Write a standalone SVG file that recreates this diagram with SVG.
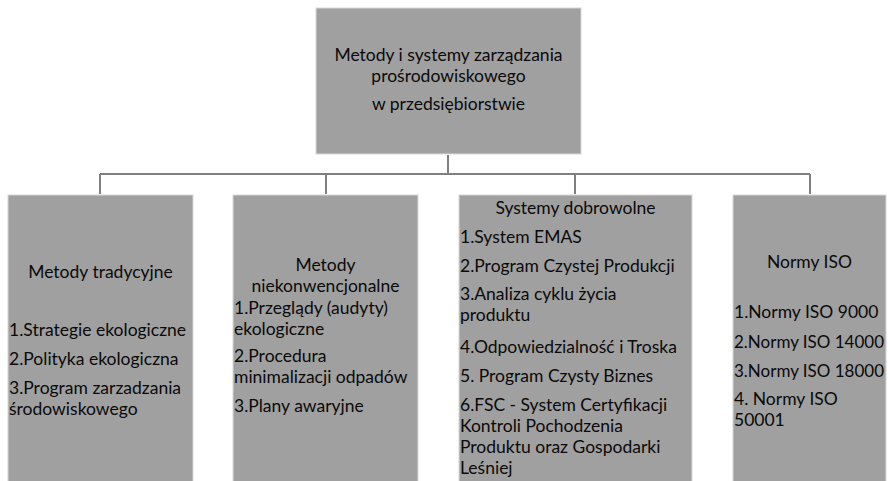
<svg xmlns="http://www.w3.org/2000/svg" width="888" height="481" viewBox="0 0 888 481">
<style>
.box{fill:#a0a0a0;stroke:#d8d8d8;stroke-width:1}
.t{font-family:Lato,"Liberation Sans",sans-serif;font-size:17.5px;fill:#0a0a0a}
.c{text-anchor:middle}
.conn{stroke:#7f7f7f;stroke-width:2;fill:none}
</style>
<rect width="888" height="481" fill="#ffffff"/>
<g id="connectors">
<path class="conn" d="M448,155 V174 M100,174 H810 M100,174 V194 M326,174 V194 M575,174 V194 M810,174 V194"/>
</g>
<g id="root">
<rect class="box" x="316" y="8" width="265" height="146"/>
<text class="t c" x="448.5" y="61">Metody i systemy zarządzania</text>
<text class="t c" x="448.5" y="82">prośrodowiskowego</text>
<text class="t c" x="448.5" y="110">w przedsiębiorstwie</text>
</g>
<g id="tradycyjne">
<rect class="box" x="8" y="195" width="185" height="287"/>
<text class="t c" x="100.5" y="278">Metody tradycyjne</text>
<text class="t" x="9" y="336">1.Strategie ekologiczne</text>
<text class="t" x="9" y="365">2.Polityka ekologiczna</text>
<text class="t" x="9" y="394">3.Program zarzadzania</text>
<text class="t" x="9" y="415">środowiskowego</text>
</g>
<g id="niekonwencjonalne">
<rect class="box" x="233" y="195" width="185" height="287"/>
<text class="t c" x="325.5" y="271">Metody</text>
<text class="t c" x="325.5" y="292">niekonwencjonalne</text>
<text class="t" x="234" y="314">1.Przeglądy (audyty)</text>
<text class="t" x="234" y="335">ekologiczne</text>
<text class="t" x="234" y="362">2.Procedura</text>
<text class="t" x="234" y="383">minimalizacji odpadów</text>
<text class="t" x="234" y="412">3.Plany awaryjne</text>
</g>
<g id="dobrowolne">
<rect class="box" x="459" y="195" width="233" height="287"/>
<text class="t c" x="575.5" y="214">Systemy dobrowolne</text>
<text class="t" x="460" y="243">1.System EMAS</text>
<text class="t" x="460" y="272">2.Program Czystej Produkcji</text>
<text class="t" x="460" y="300">3.Analiza cyklu życia</text>
<text class="t" x="460" y="321">produktu</text>
<text class="t" x="460" y="353">4.Odpowiedzialność i Troska</text>
<text class="t" x="460" y="382">5. Program Czysty Biznes</text>
<text class="t" x="460" y="411">6.FSC - System Certyfikacji</text>
<text class="t" x="460" y="432">Kontroli Pochodzenia</text>
<text class="t" x="460" y="453">Produktu oraz Gospodarki</text>
<text class="t" x="460" y="474">Leśniej</text>
</g>
<g id="iso">
<rect class="box" x="733" y="195" width="153" height="287"/>
<text class="t c" x="809.5" y="268">Normy ISO</text>
<text class="t" x="734" y="318">1.Normy ISO 9000</text>
<text class="t" x="734" y="348" textLength="150" lengthAdjust="spacingAndGlyphs">2.Normy ISO 14000</text>
<text class="t" x="734" y="377" textLength="150" lengthAdjust="spacingAndGlyphs">3.Normy ISO 18000</text>
<text class="t" x="734" y="405">4. Normy ISO</text>
<text class="t" x="734" y="426">50001</text>
</g>
</svg>
